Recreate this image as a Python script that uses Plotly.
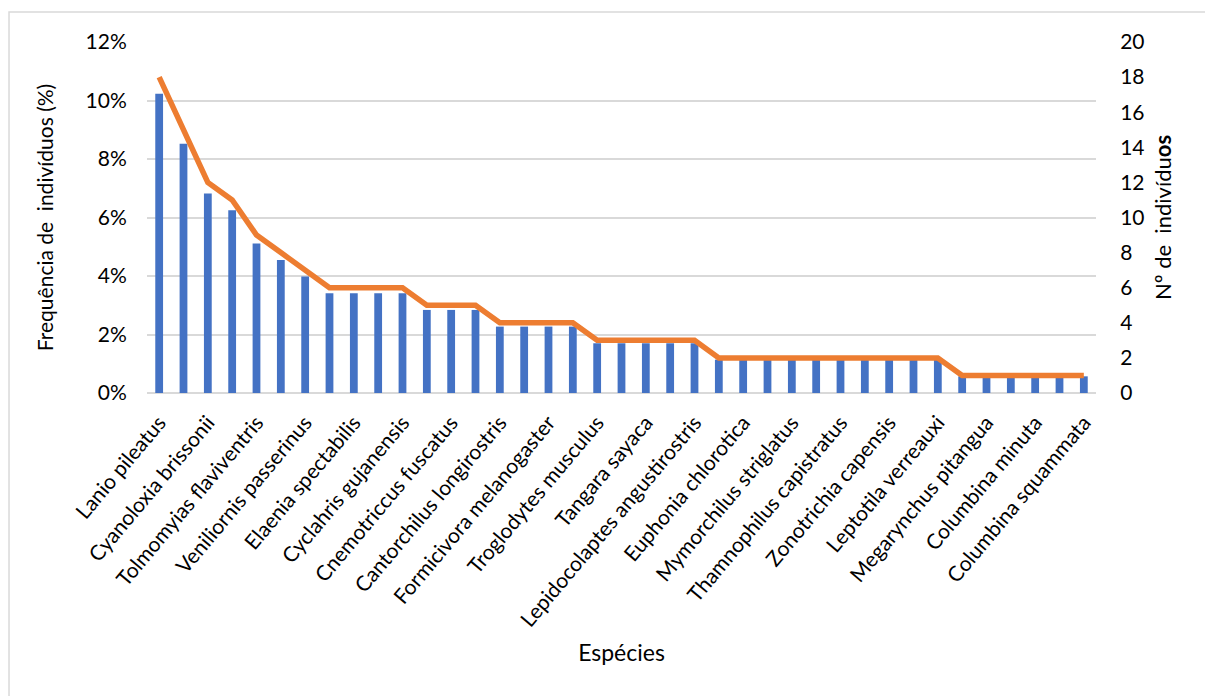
import plotly.graph_objects as go

# Species (one per bar); only every other one gets a tick label on the axis
labelled_species = [
    "Lanio pileatus", "Cyanoloxia brissonii", "Tolmomyias flaviventris",
    "Veniliornis passerinus", "Elaenia spectabilis", "Cyclahris gujanensis",
    "Cnemotriccus fuscatus", "Cantorchilus longirostris", "Formicivora melanogaster",
    "Troglodytes musculus", "Tangara sayaca", "Lepidocolaptes angustirostris",
    "Euphonia chlorotica", "Mymorchilus striglatus", "Thamnophilus capistratus",
    "Zonotrichia capensis", "Leptotila verreauxi", "Megarynchus pitangua",
    "Columbina minuta", "Columbina squammata",
]

# Number of individuals recorded per species (right axis)
n_individuals = [18, 15, 12, 11, 9, 8, 7, 6, 6, 6, 6, 5, 5, 5, 4, 4, 4, 4, 3, 3,
                 3, 3, 3, 2, 2, 2, 2, 2, 2, 2, 2, 2, 2, 1, 1, 1, 1, 1, 1]

# Relative frequency of individuals, in percent (left axis)
freq_pct = [10.23, 8.52, 6.82, 6.25, 5.11, 4.55, 3.98, 3.41, 3.41, 3.41, 3.41,
            2.84, 2.84, 2.84, 2.27, 2.27, 2.27, 2.27, 1.70, 1.70, 1.70, 1.70,
            1.70, 1.14, 1.14, 1.14, 1.14, 1.14, 1.14, 1.14, 1.14, 1.14, 1.14,
            0.57, 0.57, 0.57, 0.57, 0.57, 0.57]

left_ticks = [0, 2, 4, 6, 8, 10, 12]
left_ticktext = ["0%", "2%", "4%", "6%", "8%", "10%", "12%"]
right_ticks = [0, 2, 4, 6, 8, 10, 12, 14, 16, 18, 20]

positions = list(range(len(freq_pct)))
label_positions = positions[::2]

FONT = "Lato, 'Open Sans', sans-serif"
GRID = "#D9D9D9"
CLEAR = "rgba(0,0,0,0)"

fig = go.Figure()
fig.add_trace(go.Bar(
    x=positions, y=freq_pct, width=0.32,
    marker=dict(color="#4472C4", line=dict(width=0)),
    yaxis="y", showlegend=False,
))
fig.add_trace(go.Scatter(
    x=positions, y=n_individuals, mode="lines",
    line=dict(color="#ED7D31", width=5.5, shape="linear"),
    yaxis="y2", showlegend=False,
))

fig.update_layout(
    width=1205, height=696,
    margin=dict(l=147, r=109, t=42, b=303),
    paper_bgcolor="white", plot_bgcolor="white",
    font=dict(family=FONT, size=21, color="#000000"),
    xaxis=dict(
        range=[-0.5, len(positions) - 0.5],
        tickmode="array", tickvals=label_positions, ticktext=labelled_species,
        tickangle=-50, tickfont=dict(size=21),
        showgrid=False, zeroline=False, showline=False,
        ticks="outside", ticklen=8, tickcolor=CLEAR,
        title=dict(text="Espécies", font=dict(size=23), standoff=14),
    ),
    yaxis=dict(
        range=[0, 12], tickmode="array", tickvals=left_ticks, ticktext=left_ticktext,
        showgrid=True, gridcolor=GRID, gridwidth=1.5, zeroline=True,
        zerolinecolor=GRID, zerolinewidth=1.5, showline=False,
        ticks="outside", ticklen=15, tickcolor=CLEAR, tickfont=dict(size=21),
        title=dict(text="Frequência de  indivíduos (%)", font=dict(size=21), standoff=26),
    ),
    yaxis2=dict(
        range=[0, 20], overlaying="y", side="right", tickmode="array",
        tickvals=right_ticks, showgrid=False, zeroline=False, showline=False,
        ticks="outside", ticklen=19, tickcolor=CLEAR, tickfont=dict(size=21),
        title=dict(text="Nº de  indivídu<b>os</b>", font=dict(size=22), standoff=12),
    ),
    shapes=[dict(
        type="rect", xref="paper", yref="paper",
        x0=-0.1454, x1=1.13, y0=-0.9, y1=1.0855,
        line=dict(color=GRID, width=1.5), fillcolor=CLEAR, layer="below",
    )],
)

fig.write_html("out.html")
